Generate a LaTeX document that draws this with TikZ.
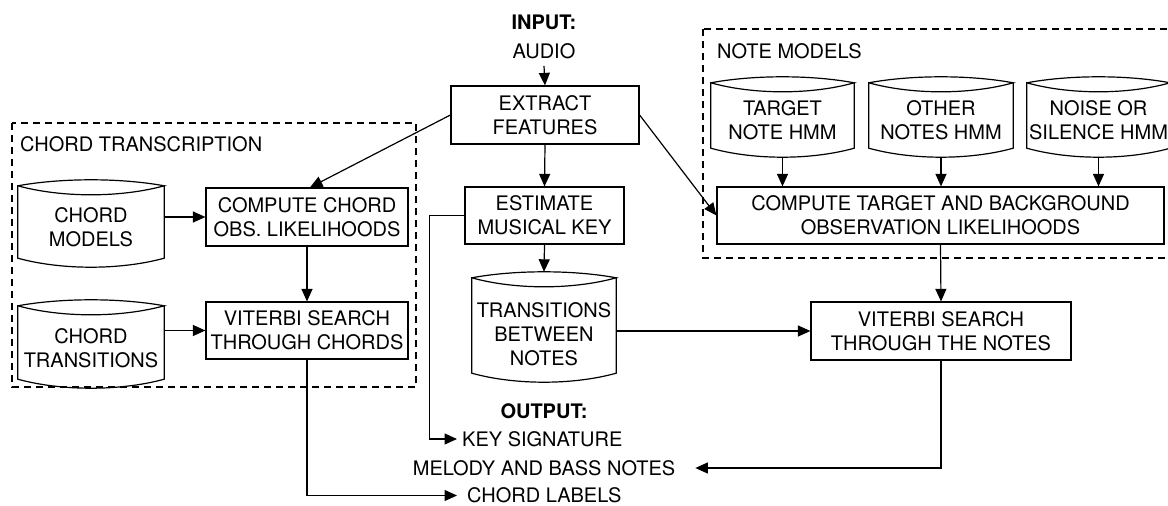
\documentclass[tikz,border=0pt]{standalone}
\usepackage{fontspec}
\setmainfont{TeX Gyre Heros}
\usetikzlibrary{arrows.meta,calc}
\tikzset{
  base/.style={font=\fontsize{20}{24}\selectfont, align=center, inner sep=0pt},
  proc/.style={base, draw, line width=1.2pt},
  cylnode/.style={inner sep=0pt},
  lbl/.style={base},
  conn/.style={line width=1.2pt},
  arr/.style={line width=1.2pt, -{Triangle[length=12.5pt,width=11pt]}},
  group/.style={draw, line width=1.2pt, dash pattern=on 7pt off 5pt},
}
% name, cx, cy, w, h, text, text shift
\newcommand\dbcyl[7]{%
  \node[cylnode, minimum width=#4pt, minimum height=#5pt] (#1) at (#2,#3) {};
  \node[base] (#1-t) at (#2,#3+#7) {#6};
  \draw[conn] ([yshift=-6pt]#1.north west)
     .. controls +({0.3*#4pt},8pt) and +({-0.3*#4pt},8pt) .. ([yshift=-6pt]#1.north east)
     .. controls +({-0.3*#4pt},-12pt) and +({0.3*#4pt},-12pt) .. ([yshift=-6pt]#1.north west)
     -- ([yshift=9pt]#1.south west)
     .. controls +({0.3*#4pt},-12pt) and +({-0.3*#4pt},-12pt) .. ([yshift=9pt]#1.south east)
     -- ([yshift=-6pt]#1.north east);
}
\begin{document}
\begin{tikzpicture}[x=1pt,y=-1pt]
\useasboundingbox (0,0) rectangle (1168,506);

% group frames
\draw[group] (12,123) rectangle (416,387);
\draw[group] (703,29) rectangle (1180,258);
\node[lbl, anchor=west] (chordgrp) at (20,144) {CHORD TRANSCRIPTION};
\node[lbl, anchor=west] (notegrp) at (717,51) {NOTE MODELS};

% input
\node[lbl, font=\fontsize{20}{24}\selectfont\bfseries] (inlbl) at (544,22) {INPUT:};
\node[lbl, inner ysep=7pt] (audio) at (544,51) {AUDIO};

% process boxes
\node[proc, minimum width=188pt, minimum height=58pt] (extract) at (545,115) {EXTRACT\\FEATURES};
\node[proc, minimum width=202pt, minimum height=58pt] (cchord) at (307,217) {COMPUTE CHORD\\OBS. LIKELIHOODS};
\node[proc, minimum width=202pt, minimum height=57pt] (vchord) at (307,330.5) {VITERBI SEARCH\\THROUGH CHORDS};
\node[proc, minimum width=159pt, minimum height=57pt] (estkey) at (544.5,215.5) {ESTIMATE\\MUSICAL KEY};
\node[proc, minimum width=447pt, minimum height=57pt] (ctarget) at (940.5,215.5) {COMPUTE TARGET AND BACKGROUND\\OBSERVATION LIKELIHOODS};
\node[proc, minimum width=260pt, minimum height=58pt] (vnotes) at (941,331) {VITERBI SEARCH\\THROUGH THE NOTES};

% databases
\dbcyl{cmodels}{91}{223.5}{146}{87}{CHORD\\MODELS}{4}
\dbcyl{ctrans}{91}{344}{146}{88}{CHORD\\TRANSITIONS}{4}
\dbcyl{tnote}{782.5}{117}{143}{80}{TARGET\\NOTE HMM}{3}
\dbcyl{onotes}{941}{117}{144}{80}{OTHER\\NOTES HMM}{3}
\dbcyl{noise}{1098.5}{117}{143}{80}{NOISE OR\\SILENCE HMM}{3}
\dbcyl{ntrans}{544}{327}{144}{110}{TRANSITIONS\\BETWEEN\\NOTES}{7}

% output
\node[lbl, font=\fontsize{20}{24}\selectfont\bfseries] (outlbl) at (544,411.5) {OUTPUT:};
\node[lbl, anchor=west, inner xsep=5pt] (keysig) at (457,439) {KEY SIGNATURE};
\node[lbl, inner xsep=20pt] (melody) at (544,468) {MELODY AND BASS NOTES};
\node[lbl, anchor=west, inner xsep=10pt] (chordlab) at (457,495.5) {CHORD LABELS};

% connectors
\draw[arr] (audio.south) -- (extract.north);
\draw[arr] (extract.west) -- ([xshift=3pt]cchord.north);
\draw[arr] (extract.east) -- (ctarget.west);
\draw[arr] (extract.south) -- (estkey.north);
\draw[arr] (estkey.south) -- (ntrans.north);
\draw[arr] (estkey.west) -- ++(-35,0) |- (keysig.west);
\draw[arr] (cchord.west -| cmodels.east) -- (cchord.west);
\draw[arr] (vchord.west -| ctrans.east) -- (vchord.west);
\draw[arr] (cchord.south) -- (vchord.north);
\draw[arr] (vchord.south) |- (chordlab.west);
\draw[arr] (tnote.south) -- (tnote.south |- ctarget.north);
\draw[arr] (onotes.south) -- (onotes.south |- ctarget.north);
\draw[arr] (noise.south) -- (noise.south |- ctarget.north);
\draw[arr] (ctarget.south) -- (vnotes.north);
\draw[arr] (vnotes.west -| ntrans.east) -- (vnotes.west);
\draw[arr] (vnotes.south) |- (melody.east);
\end{tikzpicture}
\end{document}
